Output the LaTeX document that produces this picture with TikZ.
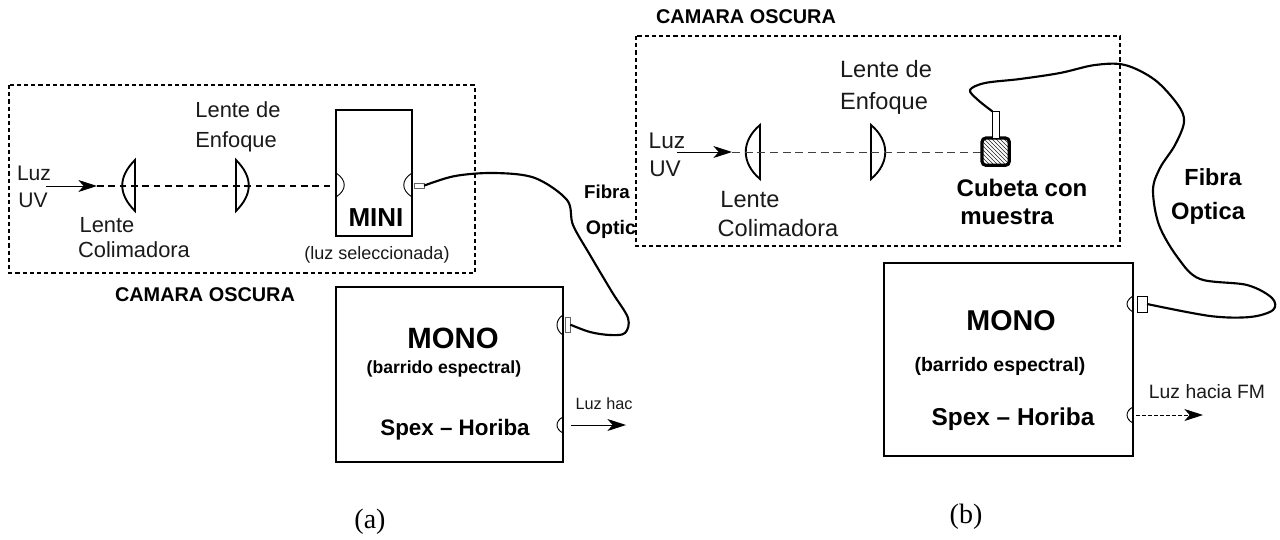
\documentclass[tikz,border=0pt]{standalone}
\usepackage{fontspec}
\setmainfont{Liberation Sans}
\newfontfamily\capfont{Liberation Serif}
\usetikzlibrary{arrows.meta,patterns}
\definecolor{ink}{HTML}{1A1A1A}
\tikzset{
  x=0.75pt,y=-0.75pt,
  txt/.style={font=\fontsize{#1}{#1}\selectfont,inner sep=0pt,text=ink,text height=0.72*#1 pt,text depth=0pt,anchor=center},
  txtb/.style={font=\fontsize{#1}{#1}\selectfont\bfseries,inner sep=0pt,text=black,text height=0.72*#1 pt,text depth=0pt,anchor=center},
  capt/.style={font=\capfont\fontsize{21}{21}\selectfont,inner sep=0pt,text=black},
  darkbox/.style={draw=black,line width=2.1pt,dash pattern=on 3.2pt off 2.2pt},
  solidbox/.style={draw=black,line width=1.9pt,inner sep=0pt,outer sep=0pt,anchor=north west},
  lens/.style={draw=black,line width=1.4pt},
  port/.style={draw=black,line width=0.7pt},
  axisA/.style={draw=black,line width=0.8pt,dash pattern=on 5pt off 3.5pt},
  axisB/.style={draw=black!75,line width=0.6pt,dash pattern=on 6pt off 3.5pt},
  lightarrow/.style={draw=black,line width=0.7pt,-{Stealth[length=14pt,width=9pt,inset=4pt]}},
  fiber/.style={draw=black,line width=1.6pt},
  tipbox/.style={draw=black!60,line width=0.5pt,fill=white,inner sep=0pt,outer sep=0pt,anchor=north west},
  tipboxb/.style={draw=black,line width=0.7pt,fill=white,inner sep=0pt,outer sep=0pt,anchor=north west},
}
\begin{document}
\begin{tikzpicture}
\useasboundingbox (0,0) rectangle (1280,539);
\fill[white] (0,0) rectangle (1280,539);

%% ---------- panel (a)
\draw[darkbox] (9,85) rectangle (475,273);
\node[solidbox,minimum width=57pt,minimum height=94.5pt] (mini) at (336,110) {};
\node[solidbox,minimum width=170.25pt,minimum height=131.25pt] (monoa) at (336,287) {};
% lenses
\draw[lens] (135,160) -- (135,211) .. controls (118,194) and (118,177) .. cycle;
\draw[lens] (236,160) -- (236,211) .. controls (253,194) and (253,177) .. cycle;
% ports
\draw[port] (336,173) .. controls (347,180) and (347,190) .. (336,197);
\draw[port] (412,173) .. controls (401,180) and (401,190) .. (412,197);
\draw[port] (563,315) .. controls (555,320) and (555,330) .. (563,335);
\draw[port] (563,417) .. controls (555,421) and (555,429) .. (563,433);
% axis
\coordinate (a0) at (46,186);
\coordinate (a1) at (97,186);
\coordinate (a2) at (333,186);
\draw[axisA] (a1) -- (a2);
\draw[lightarrow] (a0) -- (a1);
% fibre
\node[tipbox,minimum width=7.5pt,minimum height=4pt] (tipa1) at (414,183) {};
\node[tipbox,minimum width=4pt,minimum height=11.5pt] (tipa2) at (565,317) {};
\draw[fiber] plot[smooth,tension=0.55] coordinates {(tipa1.east) (455,176) (495,173) (535,178) (567,200) (573,225) (590,255) (612,292) (628,318) (625,333) (610,335) (590,332) (tipa2.east)};
\coordinate (aout0) at (571,425);
\coordinate (aout1) at (626,425);
\draw[lightarrow] (aout0) -- (aout1);
% text
\node[txt=15.8] (la1) at (34,173) {Luz};
\node[txt=15.8] (la2) at (33,200) {UV};
\node[txt=16.4] (la3) at (238,110) {Lente de};
\node[txt=16.4] (la4) at (236,140) {Enfoque};
\node[txt=16.4] (la5) at (107,225) {Lente};
\node[txt=16.4] (la6) at (134,250) {Colimadora};
\node[txtb=14.9] (la7) at (205,294) {CAMARA OSCURA};
\node[txtb=19.5] (la8) at (376,217) {MINI};
\node[txt=13.5] (la9) at (377,253) {(luz seleccionada)};
\node[txtb=14] (la10) at (607,192) {Fibra};
\node[txtb=14.7] (la11) at (611,227) {Optic};
\node[txtb=22] (la12) at (453,338) {MONO};
\node[txtb=13.2] (la13) at (444,367) {(barrido espectral)};
\node[txtb=16.8] (la14) at (455,427) {Spex -- Horiba};
\node[txt=12.2] (la15) at (604,404) {Luz hac};
\node[capt] (capa) at (370,522) {(a)};

%% ---------- panel (b)
\draw[darkbox] (636,36) rectangle (1120,246);
\node[solidbox,minimum width=186.75pt,minimum height=144.75pt] (monob) at (884,263) {};
\draw[lens] (760,125) -- (760,179) .. controls (741,163) and (741,141) .. cycle;
\draw[lens] (871,125) -- (871,179) .. controls (890,163) and (890,141) .. cycle;
\draw[port] (1133,296) .. controls (1125,301) and (1125,307) .. (1133,312);
\draw[port] (1133,407) .. controls (1125,411) and (1125,419) .. (1133,423);
\coordinate (b0) at (677,152);
\coordinate (b1) at (732,152);
\draw[axisB] (b1) -- (981,152);
\draw[lightarrow] (b0) -- (b1);
\node[draw=black,line width=2.4pt,rounded corners=3pt,pattern=north west lines,pattern color=black!85,inner sep=0pt,outer sep=0pt,minimum size=20.5pt,anchor=north west] (cuv) at (982,138) {};
\node[draw=black,line width=0.7pt,fill=white,inner sep=0pt,outer sep=0pt,minimum width=5pt,minimum height=20pt,anchor=south] (stem) at (cuv.north) {};
\node[tipboxb,minimum width=7.5pt,minimum height=12pt] (tipb) at (1137,296) {};
\draw[fiber] plot[smooth,tension=0.55] coordinates {(stem.north west) (978,100) (970,90) (985,83) (1020,79) (1060,73) (1095,65) (1125,65) (1155,80) (1178,105) (1184,122) (1175,145) (1160,168) (1153,190) (1159,225) (1178,258) (1200,279) (1247,285) (1272,298) (1273,310) (1250,317) (1210,316) (tipb.east)};
\coordinate (bout0) at (1136,415);
\coordinate (bout1) at (1203,415);
\draw[lightarrow,dash pattern=on 3pt off 1.5pt] (bout0) -- (bout1);
\node[txtb=14.9] (lb1) at (746,16) {CAMARA OSCURA};
\node[txt=17] (lb2) at (667,140) {Luz};
\node[txt=17] (lb3) at (665,168) {UV};
\node[txt=17.7] (lb4) at (886,69) {Lente de};
\node[txt=17.7] (lb5) at (884,101) {Enfoque};
\node[txt=17.7] (lb6) at (750,199) {Lente};
\node[txt=17.7] (lb7) at (778,228) {Colimadora};
\node[txtb=18] (lb8) at (1022,188) {Cubeta con};
\node[txtb=18] (lb9) at (1007,216) {muestra};
\node[txtb=17.5] (lb10) at (1213,177) {Fibra};
\node[txtb=17.8] (lb11) at (1208,211) {Optica};
\node[txtb=21.5] (lb12) at (1011,320) {MONO};
\node[txtb=14.6] (lb13) at (1000,364) {(barrido espectral)};
\node[txtb=18.3] (lb14) at (1013,417) {Spex -- Horiba};
\node[txt=14.5] (lb15) at (1207,392) {Luz hacia FM};
\node[capt] (capb) at (966,517) {(b)};
\end{tikzpicture}
\end{document}
